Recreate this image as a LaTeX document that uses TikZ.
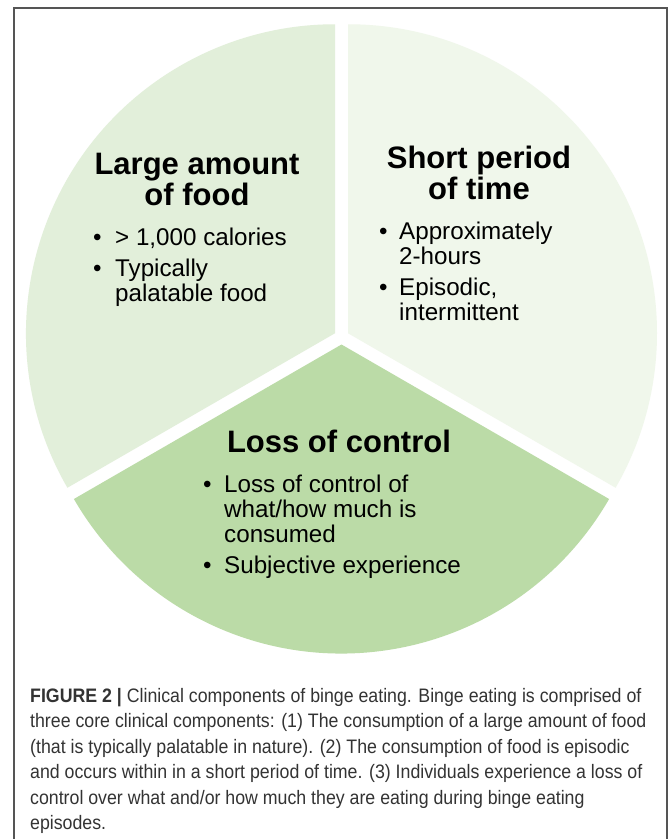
\documentclass[tikz,border=0pt]{standalone}
\usepackage{fontspec}
\setmainfont{Liberation Sans}
\newfontfamily\captionfont{Liberation Sans}[FakeStretch=0.91]
\definecolor{amountfill}{HTML}{E2EFDA}
\definecolor{periodfill}{HTML}{F0F7EB}
\definecolor{controlfill}{HTML}{BBDBA7}
\definecolor{framegray}{HTML}{555555}
\definecolor{captiongray}{HTML}{333333}

\begin{document}
\begin{tikzpicture}[x=1pt, y=-1pt]
  \tikzstyle{heading} = [inner sep=0pt, anchor=base,
    font=\fontsize{31}{31}\selectfont\bfseries]
  \tikzstyle{bullets} = [inner sep=0pt, anchor=base west,
    font=\fontsize{24.2}{25}\selectfont]
  \useasboundingbox (0,0) rectangle (670,839);
  \fill[white] (0,0) rectangle (670,839);
  \draw[framegray, line width=1.5pt] (14,850) -- (14,8) -- (667,8) -- (667,850);
  % the three pulled-apart slices
  \coordinate (amountc) at (335,333.25);
  \coordinate (periodc) at (348,333.25);
  \coordinate (controlc) at (341.5,344.5);
  \fill[amountfill] (amountc) -- ++(150:309)
    arc[start angle=150, end angle=270, radius=309] -- cycle;
  \fill[periodfill] (periodc) -- ++(270:309)
    arc[start angle=270, end angle=390, radius=309] -- cycle;
  \fill[controlfill] (controlc) -- ++(30:309)
    arc[start angle=30, end angle=150, radius=309] -- cycle;
  % slice texts
  \node[heading] (amount) at (197,174)
    {\begin{tabular}[t]{@{}c@{}}Large amount\\of food\end{tabular}};
  \node[bullets] (amountlist) at (93,245)
    {\begin{tabular}[t]{@{}p{22pt}@{}l@{}}
      \textbullet & > 1,000 calories\\[6pt]
      \textbullet & Typically\\
                  & palatable food
    \end{tabular}};
  \node[heading] (period) at (479,168)
    {\begin{tabular}[t]{@{}c@{}}Short period\\of time\end{tabular}};
  \node[bullets] (periodlist) at (379,239)
    {\begin{tabular}[t]{@{}p{20pt}@{}l@{}}
      \textbullet & Approximately\\
                  & 2-hours\\[6pt]
      \textbullet & Episodic,\\
                  & intermittent
    \end{tabular}};
  \node[heading] (control) at (339,452) {Loss of control};
  \node[bullets] (controllist) at (203,492)
    {\begin{tabular}[t]{@{}p{21pt}@{}l@{}}
      \textbullet & Loss of control of\\
                  & what/how much is\\
                  & consumed\\[6pt]
      \textbullet & Subjective experience
    \end{tabular}};
  % caption
  \node[inner sep=0pt, anchor=base west, text=captiongray,
    font=\captionfont\fontsize{19.5}{25.5}\selectfont] (caption) at (30,702)
    {\begin{tabular}[t]{@{}l@{}}
      \textbf{FIGURE 2 |} Clinical components of binge eating. Binge eating is comprised of\\
      three core clinical components: (1) The consumption of a large amount of food\\
      (that is typically palatable in nature). (2) The consumption of food is episodic\\
      and occurs within in a short period of time. (3) Individuals experience a loss of\\
      control over what and/or how much they are eating during binge eating\\
      episodes.
    \end{tabular}};
\end{tikzpicture}
\end{document}
